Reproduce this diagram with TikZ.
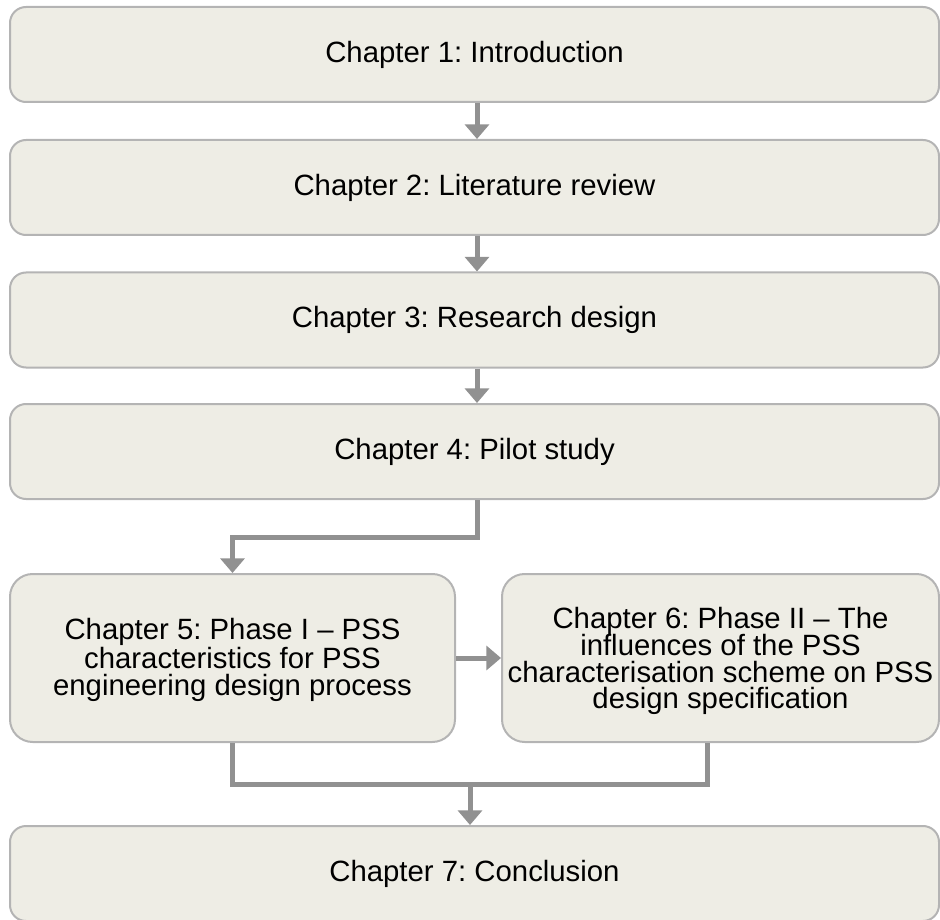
\documentclass[tikz,border=0pt]{standalone}
\usepackage{fontspec}
\setmainfont{Liberation Sans}
\usetikzlibrary{arrows.meta}
\definecolor{boxfill}{RGB}{238,237,229}
\definecolor{boxline}{RGB}{180,180,180}
\definecolor{flow}{RGB}{145,145,145}
\tikzset{
  chapter/.style={draw=boxline, fill=boxfill, line width=1.5pt, rounded corners=12pt,
    inner sep=0pt, align=center, text=black,
    font=\fontsize{22}{20}\selectfont\frenchspacing},
  wide/.style={chapter, minimum width=696.75pt, minimum height=71.25pt},
  half/.style={chapter, rounded corners=17pt, minimum height=126pt},
  caption/.style={inner sep=0pt, align=center, text=black,
    font=\fontsize{22}{20}\selectfont\frenchspacing},
  flowline/.style={draw=flow, line width=3.75pt},
  flowarrow/.style={flowline, -{Triangle[width=18pt,length=11pt]}}
}
\begin{document}
\begin{tikzpicture}[x=0.75pt,y=-0.75pt]
  \useasboundingbox (0,0) rectangle (940,920);

  % chapter boxes
  \node[wide] (c1) at (474.5,54.5) {Chapter 1: Introduction};
  \node[wide] (c2) at (474.5,187.5) {Chapter 2: Literature review};
  \node[wide] (c3) at (474.5,320) {Chapter 3: Research design};
  \node[wide] (c4) at (474.5,451.5) {Chapter 4: Pilot study};
  \node[half, minimum width=333.75pt] (c5) at (232.5,658) {};
  \node[caption] (c5text) at (232.5,660)
    {Chapter 5: Phase I -- PSS\\characteristics for PSS\\engineering design process};
  \node[half, minimum width=327.75pt] (c6) at (720.5,658) {};
  \node[caption] (c6text) at (720.5,661)
    {Chapter 6: Phase II -- The\\[-1.25pt]influences of the PSS\\characterisation scheme on PSS\\design specification};
  \node[wide] (c7) at (474.5,873.5) {Chapter 7: Conclusion};

  % guide coordinates for the connectors
  \coordinate (spine) at (477,0);
  \coordinate (split) at (0,537);
  \coordinate (join) at (0,784);
  \coordinate (right) at (707,0);
  \coordinate (mid) at (470,0);

  % sequential flow
  \draw[flowarrow] (c1.south -| spine) -- (c2.north -| spine);
  \draw[flowarrow] (c2.south -| spine) -- (c3.north -| spine);
  \draw[flowarrow] (c3.south -| spine) -- (c4.north -| spine);
  \draw[flowarrow] (c4.south -| spine) -- (spine |- split) -- (c5.north |- split) -- (c5.north);
  \draw[flowarrow] (c5.east) -- (c6.west);

  % merge into the conclusion
  \draw[flowline, line join=miter] (c5.south) -- (c5.south |- join) -- (right |- join) -- (c6.south -| right);
  \draw[flowarrow] (mid |- join) -- (c7.north -| mid);
\end{tikzpicture}
\end{document}
